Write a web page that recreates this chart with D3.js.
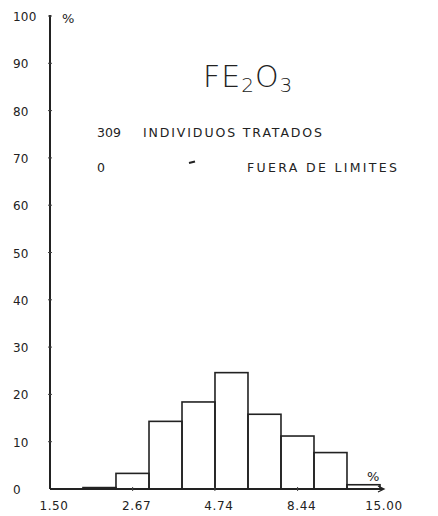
<!DOCTYPE html>
<html>
<meta charset="utf-8">
<style>
body { margin: 0; background: #fff; }
text { font-family: "DejaVu Sans", sans-serif; fill: #222; }
</style>
<script src="https://cdn.jsdelivr.net/npm/d3@7"></script>
<body>
<div id="chart"></div>
<script>
// class edges (log spaced), percent per class
var binEdges = [1.50, 1.888, 2.377, 2.993, 3.768, 4.743, 5.971, 7.517, 9.464, 11.914, 15.00];
var percents = [0, 0.3, 3.3, 14.3, 18.4, 24.6, 15.8, 11.2, 7.7, 0.9];
var xTickValues = [1.50, 2.67, 4.74, 8.44, 15.00];
var xTickLabels = ["1.50", "2.67", "4.74", "8.44", "15.00"];
var yTickValues = [0, 10, 20, 30, 40, 50, 60, 70, 80, 90, 100];

var width = 438, height = 516;

var svg = d3.select("#chart")
  .append("svg")
    .attr("width", width)
    .attr("height", height);

var x = d3.scaleLog()
  .domain([1.5, 15])
  .range([50, 380]);

var y = d3.scaleLinear()
  .domain([0, 100])
  .range([489, 16]);

// bars
var bins = percents.map(function(p, i) {
  return {x0: binEdges[i], x1: binEdges[i + 1], p: p};
});

svg.selectAll("rect.bar")
  .data(bins.filter(function(d) { return d.p > 0; }))
  .enter()
  .append("rect")
    .attr("class", "bar")
    .attr("x", function(d) { return x(d.x0); })
    .attr("y", function(d) { return y(d.p); })
    .attr("width", function(d) { return x(d.x1) - x(d.x0); })
    .attr("height", function(d) { return y(0) - y(d.p); })
    .attr("fill", "none")
    .attr("stroke", "#222")
    .attr("stroke-width", 1.6);

// y axis line
svg.append("line")
  .attr("x1", x(1.5)).attr("x2", x(1.5))
  .attr("y1", y(0)).attr("y2", y(100) - 1)
  .attr("stroke", "#222")
  .attr("stroke-width", 2);

// x axis line with arrow
svg.append("line")
  .attr("x1", x(1.5)).attr("x2", x(15) + 3)
  .attr("y1", y(0)).attr("y2", y(0))
  .attr("stroke", "#222")
  .attr("stroke-width", 2);
svg.append("path")
  .attr("d", "M" + (x(15) - 2) + "," + (y(0) - 3) + " L" + (x(15) + 4) + "," + y(0) + " L" + (x(15) - 2) + "," + (y(0) + 3))
  .attr("fill", "none")
  .attr("stroke", "#222")
  .attr("stroke-width", 1.3);

// small tick dots
svg.selectAll("line.ytick")
  .data(yTickValues.slice(1))
  .enter()
  .append("line")
    .attr("x1", x(1.5) - 2).attr("x2", x(1.5) + 2)
    .attr("y1", function(d) { return y(d); })
    .attr("y2", function(d) { return y(d); })
    .attr("stroke", "#444")
    .attr("stroke-width", 1);

svg.selectAll("line.xtick")
  .data(xTickValues.slice(1, 4))
  .enter()
  .append("line")
    .attr("x1", function(d) { return x(d); })
    .attr("x2", function(d) { return x(d); })
    .attr("y1", y(0) - 2).attr("y2", y(0) + 2)
    .attr("stroke", "#444")
    .attr("stroke-width", 1);

// y labels
svg.selectAll("text.ylab")
  .data(yTickValues)
  .enter()
  .append("text")
    .attr("x", 13)
    .attr("y", function(d) { return y(d) + 5; })
    .attr("font-size", 12)
    .attr("letter-spacing", 0.2)
    .text(function(d) { return d; });

// x labels
svg.selectAll("text.xlab")
  .data(xTickValues)
  .enter()
  .append("text")
    .attr("x", function(d) { return x(d) + 4; })
    .attr("y", 510)
    .attr("text-anchor", "middle")
    .attr("font-size", 12)
    .attr("letter-spacing", 0.6)
    .text(function(d, i) { return xTickLabels[i]; });

// percent signs
svg.append("text").attr("x", 62).attr("y", 23).attr("font-size", 13).text("%");
svg.append("text").attr("x", 367).attr("y", 481).attr("font-size", 13).text("%");

// title
var title = svg.append("text")
  .attr("x", 203)
  .attr("y", 87)
  .attr("font-size", 30)
  .attr("font-weight", 200)
  .attr("letter-spacing", 1);
title.append("tspan").text("FE");
title.append("tspan").attr("font-size", 20).attr("dy", 5).text("2");
title.append("tspan").attr("dy", -5).text("O");
title.append("tspan").attr("font-size", 20).attr("dy", 5).text("3");

// info lines
svg.append("text").attr("x", 97).attr("y", 137).attr("font-size", 12.5).text("309");
svg.append("text").attr("x", 143).attr("y", 137).attr("font-size", 12.5)
  .attr("textLength", 179).attr("lengthAdjust", "spacing").text("INDIVIDUOS TRATADOS");
svg.append("text").attr("x", 97).attr("y", 172).attr("font-size", 12.5).text("0");
svg.append("line")
  .attr("x1", 189).attr("x2", 195).attr("y1", 163).attr("y2", 161.5)
  .attr("stroke", "#222").attr("stroke-width", 2);
svg.append("text").attr("x", 247).attr("y", 172).attr("font-size", 12.5)
  .attr("textLength", 150).attr("lengthAdjust", "spacing").text("FUERA DE LIMITES");
</script>
</body>
</html>
